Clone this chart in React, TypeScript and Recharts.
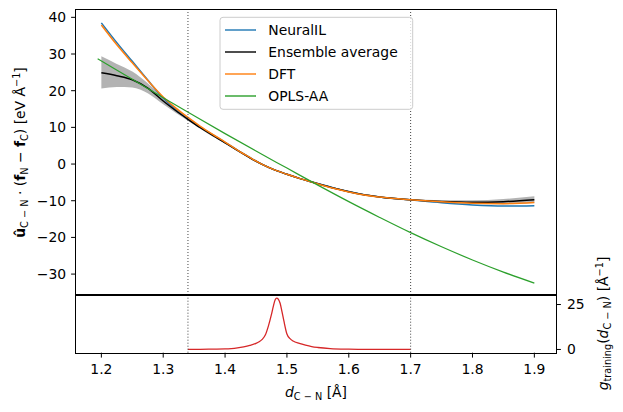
import { ComposedChart, Line, Area, XAxis, YAxis, ReferenceLine } from 'recharts'

// C-N distances (Å) shared by the NeuralIL / ensemble / DFT curves
const dist = [1.2, 1.225, 1.25, 1.275, 1.3, 1.32, 1.34, 1.36, 1.38, 1.4, 1.42, 1.44, 1.46, 1.48, 1.5, 1.52, 1.54, 1.56, 1.58, 1.6, 1.62, 1.65, 1.7, 1.75, 1.8, 1.85, 1.9]
const neuralIL = [38.5, 33.1, 28.0, 22.9, 18.0, 14.9, 12.4, 10.1, 8.0, 5.9, 3.8, 1.8, -0.1, -1.6, -2.8, -3.9, -4.85, -5.8, -6.7, -7.5, -8.2, -8.95, -9.75, -10.55, -11.15, -11.45, -11.35]
const ensemble = [24.9, 24.1, 23.0, 20.7, 17.2, 14.6, 12.2, 9.9, 7.8, 5.8, 3.7, 1.7, -0.1, -1.6, -2.8, -3.9, -4.9, -5.85, -6.75, -7.55, -8.25, -9.0, -9.75, -10.2, -10.4, -10.25, -9.7]
const ensembleLow = [20.6, 21.0, 20.9, 19.3, 16.3, 14.0, 11.8, 9.6, 7.5, 5.6, 3.5, 1.5, -0.3, -1.8, -3.0, -4.1, -5.1, -6.05, -6.95, -7.75, -8.45, -9.2, -10.0, -10.55, -10.9, -10.95, -10.6]
const ensembleHigh = [29.4, 27.3, 25.2, 22.0, 18.1, 15.2, 12.6, 10.2, 8.1, 6.0, 3.9, 1.9, 0.1, -1.4, -2.6, -3.7, -4.7, -5.65, -6.55, -7.35, -8.05, -8.8, -9.5, -9.85, -9.9, -9.55, -8.8]
const dft = [37.9, 32.5, 27.6, 22.8, 18.3, 15.3, 12.7, 10.3, 8.1, 6.0, 3.8, 1.8, -0.1, -1.6, -2.8, -3.9, -4.9, -5.9, -6.8, -7.6, -8.3, -9.0, -9.75, -10.3, -10.7, -10.8, -10.5]

// OPLS-AA curve has its own sampling
const oplsDist = [1.194, 1.25, 1.3, 1.35, 1.4, 1.45, 1.5, 1.55, 1.6, 1.65, 1.7, 1.75, 1.8, 1.85, 1.9]
const opls = [28.7, 23.1, 18.1, 13.15, 8.3, 3.55, -1.1, -5.75, -10.25, -14.55, -18.7, -22.55, -26.15, -29.45, -32.45]

// training set distance distribution
const trainDist = [1.34, 1.36, 1.38, 1.4, 1.41, 1.42, 1.43, 1.44, 1.45, 1.455, 1.46, 1.465, 1.47, 1.475, 1.478, 1.481, 1.4835, 1.486, 1.489, 1.492, 1.495, 1.5, 1.505, 1.51, 1.52, 1.53, 1.54, 1.55, 1.57, 1.6, 1.63, 1.66, 1.7]
const trainDensity = [0.1, 0.1, 0.2, 0.3, 0.5, 0.9, 1.5, 2.3, 3.4, 4.3, 5.6, 8.0, 13.0, 19.5, 24.0, 27.6, 28.6, 28.0, 25.7, 21.0, 16.0, 8.6, 6.0, 4.7, 3.4, 2.4, 1.6, 1.1, 0.5, 0.2, 0.1, 0.1, 0.1]

const xTicks = [1.2, 1.3, 1.4, 1.5, 1.6, 1.7, 1.8, 1.9]
const yTicks = [-30, -20, -10, 0, 10, 20, 30, 40]
const gTicks = [0, 25]
const trainingRange = [1.34, 1.7]

const legendItems = [
  { name: 'NeuralIL', color: '#1f77b4' },
  { name: 'Ensemble average', color: '#000000' },
  { name: 'DFT', color: '#ff7f0e' },
  { name: 'OPLS-AA', color: '#2ca02c' },
]

const X_DOMAIN: [number, number] = [1.159, 1.935]
const Y_DOMAIN: [number, number] = [-35.7, 42.0]
const G_DOMAIN: [number, number] = [-1.8, 30.3]

const W = 623
const H = 412
// panel edges in px; both charts take their margins from these
const PANEL = { left: 76, right: 556, top: 10, mid: 295, bottom: 352.7 }

const FONT = 'DejaVu Sans'
const FS = 13.9

const mainData = dist.map((x, i) => ({
  x,
  neuralIL: neuralIL[i],
  ensemble: ensemble[i],
  band: [ensembleLow[i], ensembleHigh[i]],
  dft: dft[i],
}))
const oplsData = oplsDist.map((x, i) => ({ x, opls: opls[i] }))
const trainData = trainDist.map((x, i) => ({ x, g: trainDensity[i] }))

const minus = (v: number) => (v < 0 ? '\u2212' + Math.abs(v) : String(v))
const tickStyle = { fill: '#000', fontSize: FS, fontFamily: FONT }

// panel box drawn as a css border, centred on the panel edges
const Box = ({ top, bottom }: { top: number; bottom: number }) => (
  <div
    style={{
      position: 'absolute',
      left: Math.round(PANEL.left) - 1,
      top: Math.round(top) - 1,
      width: Math.round(PANEL.right) - Math.round(PANEL.left) + 2,
      height: Math.round(bottom) - Math.round(top) + 2,
      border: '1px solid #000',
      boxSizing: 'border-box',
      pointerEvents: 'none',
      zIndex: 5,
    }}
  />
)

const Overlay = () => (
  <svg width={W} height={H} style={{ position: 'absolute', left: 0, top: 0, pointerEvents: 'none' }} fontFamily={FONT}>
    {/* legend */}
    <rect x={220} y={17.3} width={192.7} height={92} rx={3} fill="#fff" fillOpacity={0.8} stroke="#cccccc" strokeWidth={1} />
    {legendItems.map((it, i) => (
      <g key={it.name}>
        <line x1={225} x2={256} y1={30 + i * 22} y2={30 + i * 22} stroke={it.color} strokeWidth={1.4} />
        <text x={268.3} y={35 + i * 22} fontSize={FS} fill="#000">{it.name}</text>
      </g>
    ))}

    {/* left y label */}
    <text transform="rotate(-90 25 152.5)" x={25} y={152.5} textAnchor="middle" fontSize={FS} fill="#000">
      <tspan fontWeight="bold">û</tspan>
      <tspan fontSize={FS * 0.7} dy={2.5}>C − N</tspan>
      <tspan dy={-2.5}> · (</tspan>
      <tspan fontWeight="bold">f</tspan>
      <tspan fontSize={FS * 0.7} dy={2.5}>N</tspan>
      <tspan dy={-2.5}> − </tspan>
      <tspan fontWeight="bold">f</tspan>
      <tspan fontSize={FS * 0.7} dy={2.5}>C</tspan>
      <tspan dy={-2.5}>) [eV Å</tspan>
      <tspan fontSize={FS * 0.7} dy={-5.5}>−1</tspan>
      <tspan dy={5.5}>]</tspan>
    </text>

    {/* right y label */}
    <text transform="rotate(-90 608 323.5)" x={608} y={323.5} textAnchor="middle" fontSize={FS} fill="#000">
      <tspan fontStyle="italic">g</tspan>
      <tspan fontSize={FS * 0.7} dy={2.5}>training</tspan>
      <tspan dy={-2.5}>(</tspan>
      <tspan fontStyle="italic">d</tspan>
      <tspan fontSize={FS * 0.7} dy={2.5}>C − N</tspan>
      <tspan dy={-2.5}>) [Å</tspan>
      <tspan fontSize={FS * 0.7} dy={-5.5}>−1</tspan>
      <tspan dy={5.5}>]</tspan>
    </text>

    {/* x label */}
    <text x={316} y={397} textAnchor="middle" fontSize={FS} fill="#000">
      <tspan fontStyle="italic">d</tspan>
      <tspan fontSize={FS * 0.7} dy={2.5}>C − N</tspan>
      <tspan dy={-2.5}> [Å]</tspan>
    </text>
  </svg>
)

export default function App() {
  return (
    <div style={{ position: 'absolute', left: 0, top: 0, width: W, height: H, background: '#fff', fontFamily: FONT }}>
      <div style={{ position: 'absolute', left: 0, top: 0 }}>
        <ComposedChart
          width={W}
          height={H}
          data={mainData}
          margin={{ top: PANEL.top, right: W - PANEL.right, left: 0, bottom: H - PANEL.mid }}
        >
          <XAxis dataKey="x" type="number" domain={X_DOMAIN} allowDataOverflow hide />
          <YAxis
            type="number"
            domain={Y_DOMAIN}
            allowDataOverflow
            ticks={yTicks}
            width={PANEL.left}
            axisLine={false}
            tickSize={4.9}
            tickMargin={5}
            tickLine={{ stroke: '#000' }}
            tick={tickStyle}
            tickFormatter={minus}
          />
          <Area dataKey="band" stroke="none" fill="#808080" fillOpacity={0.6} type="monotone" isAnimationActive={false} />
          <Line dataKey="neuralIL" stroke="#1f77b4" strokeWidth={1.5} dot={false} type="monotone" isAnimationActive={false} />
          <Line dataKey="ensemble" stroke="#000" strokeWidth={1.5} dot={false} type="monotone" isAnimationActive={false} />
          <Line dataKey="dft" stroke="#ff7f0e" strokeWidth={1.5} dot={false} type="monotone" isAnimationActive={false} />
          <Line data={oplsData} dataKey="opls" stroke="#2ca02c" strokeWidth={1.2} dot={false} type="monotone" isAnimationActive={false} />
          {trainingRange.map((x) => (
            <ReferenceLine key={x} x={x} stroke="#444" strokeWidth={1} strokeDasharray="1 2" />
          ))}
        </ComposedChart>
      </div>
      <div style={{ position: 'absolute', left: 0, top: 0 }}>
        <ComposedChart
          width={W}
          height={H}
          data={trainData}
          margin={{ top: PANEL.mid, right: 0, left: PANEL.left, bottom: 0 }}
        >
          <XAxis
            dataKey="x"
            type="number"
            domain={X_DOMAIN}
            allowDataOverflow
            ticks={xTicks}
            height={H - PANEL.bottom}
            axisLine={false}
            tickSize={4.9}
            tickMargin={6.5}
            tickLine={{ stroke: '#000' }}
            tick={tickStyle}
            tickFormatter={(v: number) => v.toFixed(1)}
          />
          <YAxis
            yAxisId="g"
            orientation="right"
            type="number"
            domain={G_DOMAIN}
            allowDataOverflow
            ticks={gTicks}
            width={W - PANEL.right}
            axisLine={false}
            tickSize={4.9}
            tickMargin={6}
            tickLine={{ stroke: '#000' }}
            tick={tickStyle}
          />
          <Line yAxisId="g" dataKey="g" stroke="#d62728" strokeWidth={1.3} dot={false} type="monotone" isAnimationActive={false} />
          {trainingRange.map((x) => (
            <ReferenceLine key={x} yAxisId="g" x={x} stroke="#444" strokeWidth={1} strokeDasharray="1 2" />
          ))}
        </ComposedChart>
      </div>
      <Overlay />
      <Box top={PANEL.top} bottom={PANEL.mid} />
      <Box top={PANEL.mid} bottom={PANEL.bottom} />
    </div>
  )
}
